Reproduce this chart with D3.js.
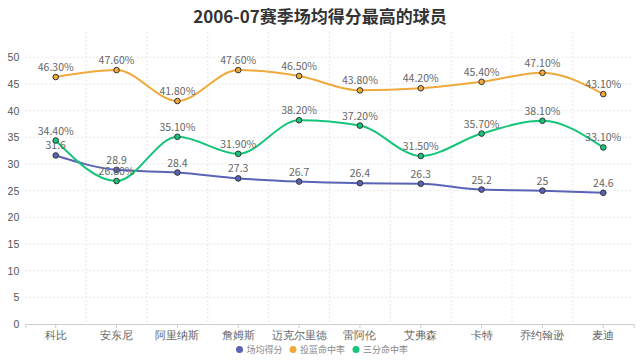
<!DOCTYPE html>
<html><head><meta charset="utf-8">
<script src="https://cdn.jsdelivr.net/npm/d3@7/dist/d3.min.js"></script>
<style>body{margin:0;background:#fff;}svg{display:block;font-family:"Noto Sans CJK SC","Noto Sans",sans-serif;}</style>
</head><body><svg id="c" width="640" height="361"></svg>
<script>
const categories = ["科比","安东尼","阿里纳斯","詹姆斯","迈克尔里德","雷阿伦","艾弗森","卡特","乔约翰逊","麦迪"];
const ppg = [31.6,28.9,28.4,27.3,26.7,26.4,26.3,25.2,25,24.6];
const fgPct = [46.3,47.6,41.8,47.6,46.5,43.8,44.2,45.4,47.1,43.1];
const tpPct = [34.4,26.8,35.1,31.9,38.2,37.2,31.5,35.7,38.1,33.1];
const seriesNames = ["场均得分","投篮命中率","三分命中率"];
const yTicks = [0,5,10,15,20,25,30,35,40,45,50];
const colors = ["#5a63b8","#f0a93b","#16c47a"];

(function(){
const svg = d3.select("#c");
const mL=25.3, mR=633.7, mT=32, mB=324;
const x = d3.scaleBand().domain(categories).range([mL,mR]);
const y = d3.scaleLinear().domain([0,50]).range([mB,57.3]);

svg.append("text").attr("x",320).attr("y",23).attr("text-anchor","middle")
  .attr("font-size",17).attr("font-weight","bold").attr("fill","#333").text("2006-07赛季场均得分最高的球员");

const g = svg.append("g");
yTicks.forEach(t=>{
  if(t===0) return;
  g.append("line").attr("x1",mL).attr("x2",mR).attr("y1",y(t)).attr("y2",y(t))
   .attr("stroke","#e6e6e6").attr("stroke-dasharray","2,2");
});
categories.forEach((c,i)=>{
  if(i===0) return;
  const xx=x(c);
  g.append("line").attr("x1",xx).attr("x2",xx).attr("y1",mT).attr("y2",mB)
   .attr("stroke","#e6e6e6").attr("stroke-dasharray","2,2");
});
const xa = svg.append("g").attr("transform",`translate(0,${mB})`)
  .call(d3.axisBottom(x).tickSize(4).tickPadding(4));
xa.select(".domain").attr("stroke","#ccc");
xa.selectAll(".tick line").attr("stroke","#ccc");
xa.selectAll("text").attr("fill","#666").attr("font-size",10.5);
const ya = svg.append("g").attr("transform",`translate(${mL},0)`)
  .call(d3.axisLeft(y).tickValues(yTicks).tickSize(0).tickPadding(6));
ya.select(".domain").remove();
ya.selectAll("text").attr("fill","#555").attr("font-size",10.5);

const data=[ppg,fgPct,tpPct];
const fmt=[v=>String(v), v=>v.toFixed(2)+"%", v=>v.toFixed(2)+"%"];
const cx = c=>x(c)+x.bandwidth()/2;
data.forEach((arr,si)=>{
  const line=d3.line().x((d,i)=>cx(categories[i])).y(d=>y(d)).curve(d3.curveMonotoneX);
  svg.append("path").datum(arr).attr("d",line).attr("fill","none").attr("stroke",colors[si]).attr("stroke-width",2);
});
data.forEach((arr,si)=>{
  svg.selectAll(null).data(arr).enter().append("circle")
    .attr("cx",(d,i)=>cx(categories[i])).attr("cy",d=>y(d)).attr("r",2.8)
    .attr("fill",colors[si]).attr("stroke","#333").attr("stroke-width",1);
  svg.selectAll(null).data(arr).enter().append("text")
    .attr("x",(d,i)=>cx(categories[i])).attr("y",d=>y(d)-6)
    .attr("text-anchor","middle").attr("font-size",10.5).attr("fill","#666")
    .text(d=>fmt[si](d));
});

const leg=[{x:239.5,t:seriesNames[0]},{x:293,t:seriesNames[1]},{x:356,t:seriesNames[2]}];
leg.forEach((l,i)=>{
  svg.append("circle").attr("cx",l.x).attr("cy",349.5).attr("r",3.5).attr("fill",colors[i]);
  svg.append("text").attr("x",l.x+7).attr("y",353).attr("font-size",9).attr("fill","#888").text(l.t);
});
})();
</script></body></html>
